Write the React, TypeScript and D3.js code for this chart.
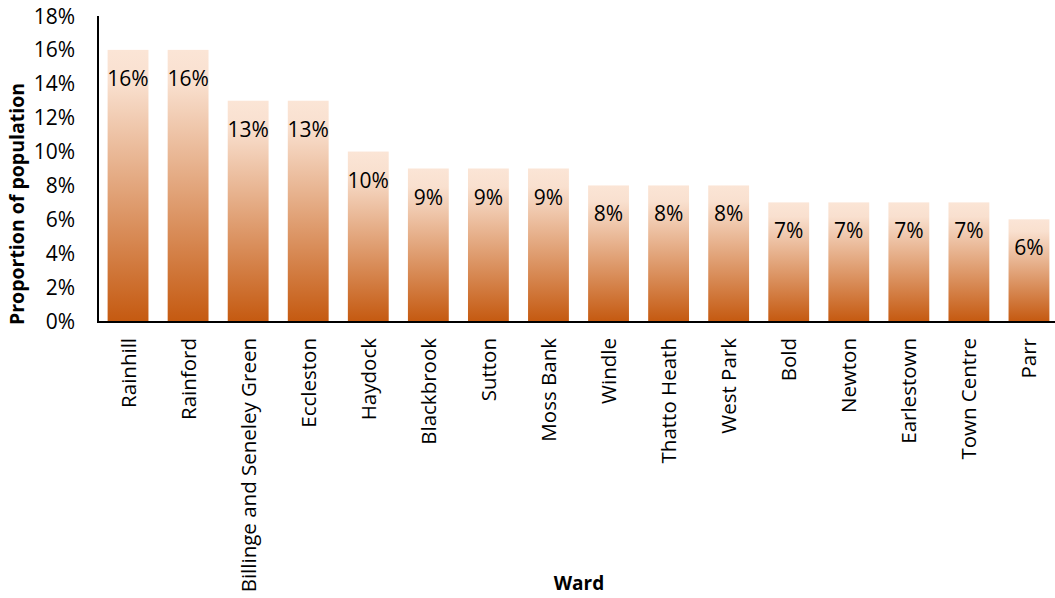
import React from "react";
import * as d3 from "d3";

const wards = [
  "Rainhill", "Rainford", "Billinge and Seneley Green", "Eccleston", "Haydock",
  "Blackbrook", "Sutton", "Moss Bank", "Windle", "Thatto Heath", "West Park",
  "Bold", "Newton", "Earlestown", "Town Centre", "Parr",
];
const values = [16, 16, 13, 13, 10, 9, 9, 9, 8, 8, 8, 7, 7, 7, 7, 6];
const yTicks = [0, 2, 4, 6, 8, 10, 12, 14, 16, 18];

const W = 1055;
const H = 598;
const left = 98;
const right = 1059;
const top = 16;
const bottom = 321;
const FONT = "'Open Sans', 'Noto Sans', sans-serif";

export default function App() {
  const x = d3.scaleBand<string>().domain(wards).range([left, right]).paddingInner(0.32).paddingOuter(0.16);
  const y = d3.scaleLinear().domain([0, 18]).range([bottom, top]);
  const fmt = (v: number) => `${v}%`;

  return (
    <svg
      width={W}
      height={H}
      style={{ position: "absolute", left: 0, top: 0, background: "#fff" }}
      fontFamily={FONT}
    >
      <defs>
        <linearGradient id="barGrad" x1="0" y1="0" x2="0" y2="1">
          <stop offset="0" stopColor="#fbe5d6" />
          <stop offset="0.12" stopColor="#f9e0cf" />
          <stop offset="1" stopColor="#c55a11" />
        </linearGradient>
      </defs>

      {wards.map((w, i) => (
        <rect
          key={w}
          x={x(w)}
          y={y(values[i])}
          width={x.bandwidth()}
          height={y(0) - y(values[i])}
          fill="url(#barGrad)"
        />
      ))}

      {wards.map((w, i) => (
        <text
          key={w + "-l"}
          x={(x(w) as number) + x.bandwidth() / 2}
          y={y(values[i]) + 36}
          textAnchor="middle"
          fontSize={21}
          fill="#000"
        >
          {fmt(values[i])}
        </text>
      ))}

      {yTicks.map((t) => (
        <text
          key={"yt" + t}
          x={75}
          y={y(t)}
          dy="0.36em"
          textAnchor="end"
          fontSize={21}
          fill="#000"
        >
          {fmt(t)}
        </text>
      ))}

      <line x1={left} x2={left} y1={top} y2={bottom + 1} stroke="#000" strokeWidth={2} />
      <line x1={left - 1} x2={W} y1={bottom + 1} y2={bottom + 1} stroke="#000" strokeWidth={2} />

      {wards.map((w) => {
        const cx = (x(w) as number) + x.bandwidth() / 2;
        return (
          <text
            key={w + "-x"}
            transform={`translate(${cx + 7.5},338) rotate(-90)`}
            textAnchor="end"
            fontSize={20.5}
            fill="#000"
          >
            {w}
          </text>
        );
      })}

      <text
        transform={`translate(24,204) rotate(-90)`}
        textAnchor="middle"
        fontSize={19.5}
        fontWeight="bold"
        fill="#000"
      >
        Proportion of population
      </text>

      <text x={579} y={590} textAnchor="middle" fontSize={19} fontWeight="bold" fill="#000">
        Ward
      </text>
    </svg>
  );
}
